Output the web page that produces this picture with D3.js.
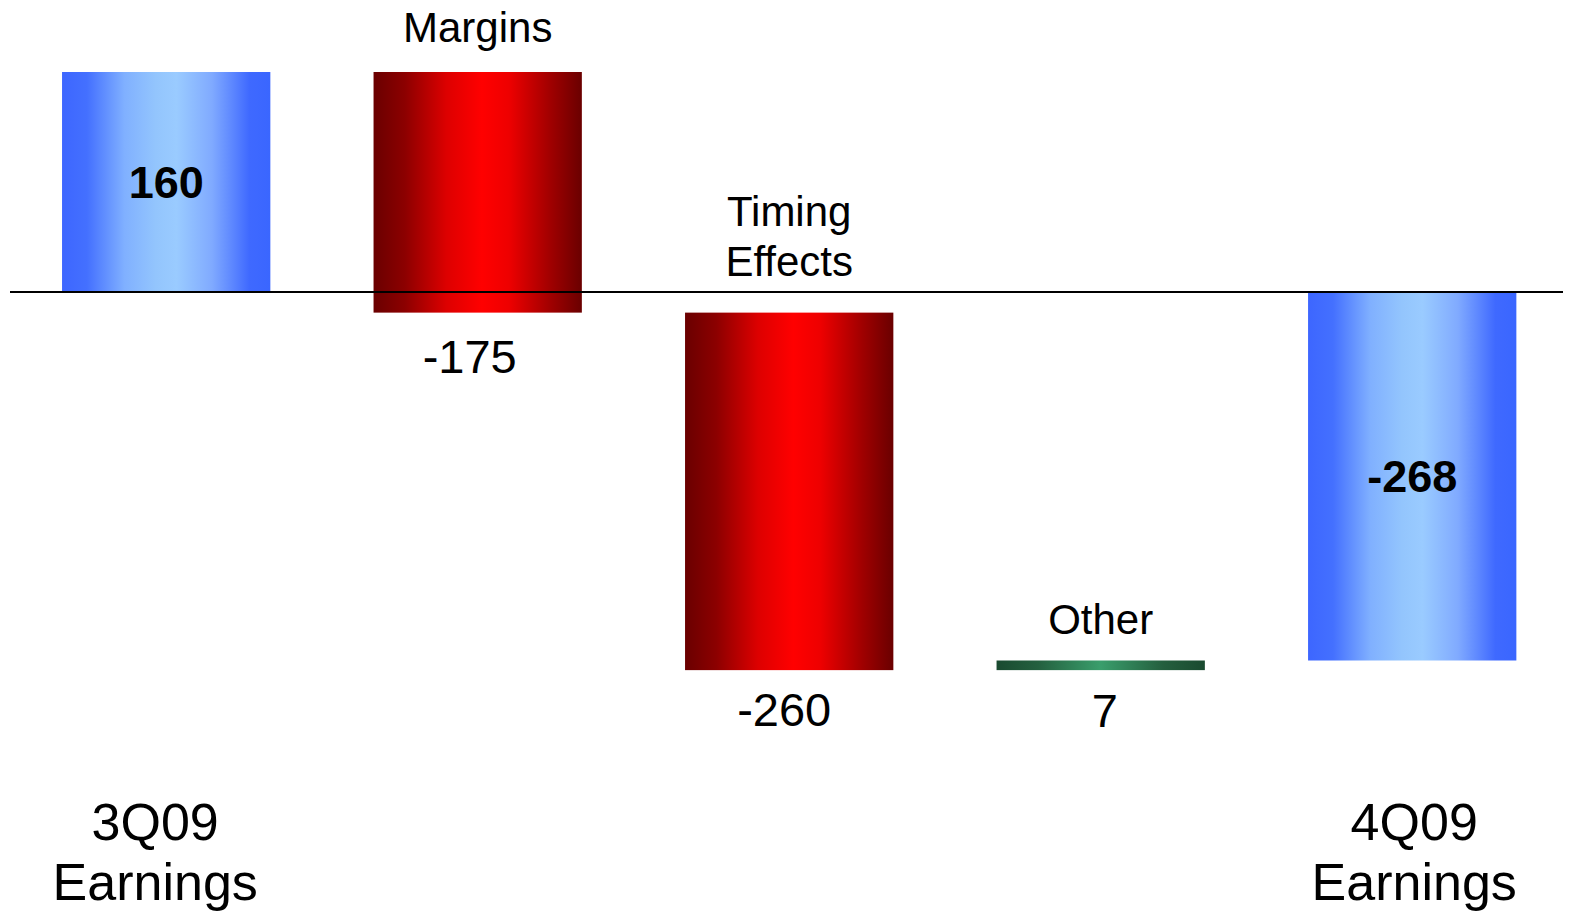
<!DOCTYPE html>
<html>
<head>
<meta charset="utf-8">
<script src="https://cdn.jsdelivr.net/npm/d3@7"></script>
<style>
  html, body { margin: 0; padding: 0; background: #fff; }
  svg { display: block; font-family: "Liberation Sans", Arial, sans-serif; }
</style>
</head>
<body>
<svg id="chart" width="1572" height="914"></svg>
<script>
// Earnings bridge, 3Q09 -> 4Q09
const categories = ["3Q09 Earnings", "Margins", "Timing Effects", "Other", "4Q09 Earnings"];
const values = [160, -175, -260, 7, -268];
const kinds = ["total", "change", "change", "change", "total"];
const valueLabels = ["160", "-175", "-260", "7", "-268"];

const svg = d3.select("#chart");

const x = d3.scaleBand()
  .domain(categories)
  .range([12.2, 1566.2])
  .paddingInner(0.3313)
  .paddingOuter(0.16);

const y = d3.scaleLinear().domain([-300, 200]).range([704.5, 17]);

// gradients
const defs = svg.append("defs");
function grad(id, stops) {
  const g = defs.append("linearGradient").attr("id", id)
    .attr("x1", "0%").attr("x2", "100%").attr("y1", "0%").attr("y2", "0%");
  stops.forEach(([o, c]) => g.append("stop").attr("offset", o).attr("stop-color", c));
}
grad("gBlue", [[0, "#3d66ff"], [0.12, "#4470ff"], [0.3, "#80b0ff"], [0.45, "#93c5fd"], [0.55, "#9acbff"], [0.72, "#80aaff"], [0.9, "#3f69ff"], [1, "#3a66ff"]]);
grad("gRed", [[0, "#6a0000"], [0.15, "#8c0000"], [0.35, "#dd0000"], [0.52, "#ff0000"], [0.65, "#ee0000"], [0.85, "#a00000"], [1, "#6a0000"]]);
grad("gGreen", [[0, "#1a4a30"], [0.2, "#24603f"], [0.5, "#3a9e6c"], [0.8, "#245f3e"], [1, "#1a4a30"]]);

// waterfall segments
let running = 0;
const bars = categories.map((c, i) => {
  let from, to;
  if (kinds[i] === "total") { from = 0; to = values[i]; running = values[i]; }
  else { from = running; to = running + values[i]; running = to; }
  return { cat: c, value: values[i], kind: kinds[i], from, to, label: valueLabels[i] };
});

function fillFor(d) {
  if (d.kind === "total") return "url(#gBlue)";
  return d.value < 0 ? "url(#gRed)" : "url(#gGreen)";
}

svg.append("g").selectAll("rect").data(bars).join("rect")
  .attr("x", d => x(d.cat))
  .attr("width", x.bandwidth())
  .attr("y", d => y(Math.max(d.from, d.to)))
  .attr("height", d => Math.abs(y(d.from) - y(d.to)))
  .attr("fill", fillFor);

// zero line
svg.append("line")
  .attr("x1", 10).attr("x2", 1563)
  .attr("y1", y(0)).attr("y2", y(0))
  .attr("stroke", "#000").attr("stroke-width", 2);

const cx = d => x(d.cat) + x.bandwidth() / 2;

// hand-tuned label nudges per change bar: [name gap above, value dx, value dy]
const nudge = {
  "Margins": [30, -8, 60],
  "Timing Effects": [37, -5, 56],
  "Other": [27, 4, 57]
};

const labels = svg.append("g").attr("fill", "#000").attr("text-anchor", "middle");
bars.forEach(d => {
  const top = y(Math.max(d.from, d.to));
  const bottom = y(Math.min(d.from, d.to));
  if (d.kind === "total") {
    // bold value inside the total bar
    labels.append("text")
      .attr("x", cx(d)).attr("y", (top + bottom) / 2 + 16)
      .attr("font-size", 45).attr("font-weight", "bold")
      .text(d.label);
  } else {
    const [gap, vdx, vdy] = nudge[d.cat];
    labels.append("text")
      .attr("x", cx(d) + vdx).attr("y", bottom + vdy)
      .attr("font-size", 47)
      .text(d.label);
    // category name above the bar
    const words = d.cat.split(" ");
    words.forEach((w, k) => {
      labels.append("text")
        .attr("x", cx(d))
        .attr("y", top - gap - (words.length - 1 - k) * 50)
        .attr("font-size", 42)
        .text(w);
    });
  }
});

// totals: category name under the chart, two lines
bars.filter(d => d.kind === "total").forEach((d, i) => {
  const words = d.cat.split(" ");
  const dx = i === 0 ? -11 : 2;
  words.forEach((w, k) => {
    labels.append("text")
      .attr("x", cx(d) + dx).attr("y", 840 + k * 60)
      .attr("font-size", 52)
      .text(w);
  });
});
</script>
</body>
</html>
